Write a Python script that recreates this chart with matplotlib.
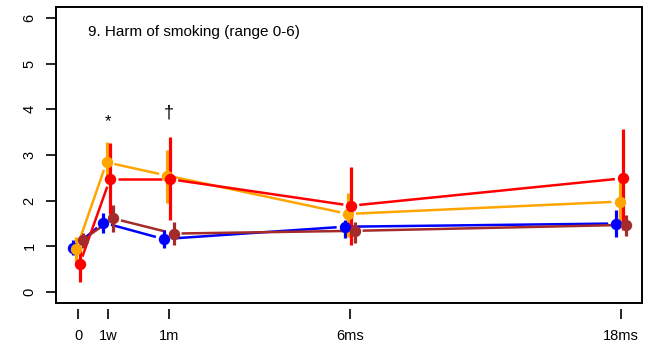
import numpy as np
import matplotlib
matplotlib.use("Agg")
from matplotlib import pyplot as plt
from matplotlib.patches import Rectangle

plt.rcParams['font.family'] = ['Liberation Sans', 'DejaVu Sans']

# time points (axis positions) and labels
time_pos = [0, 1, 3, 9, 18]
time_labels = ['0', '1w', '1m', '6ms', '18ms']

# group means and error bar bounds (low, high)
blue_mean = [0.97, 1.52, 1.16, 1.43, 1.50]
blue_low = [0.81, 1.29, 0.96, 1.18, 1.21]
blue_high = [1.14, 1.73, 1.36, 1.58, 1.80]

orange_mean = [0.94, 2.84, 2.55, 1.71, 1.98]
orange_low = [0.65, 2.45, 1.94, 1.21, 1.50]
orange_high = [1.20, 3.29, 3.11, 2.16, 2.42]

red_mean = [0.61, 2.47, 2.47, 1.89, 2.49]
red_low = [0.23, 1.70, 1.58, 1.03, 1.35]
red_high = [0.99, 3.27, 3.39, 2.74, 3.56]

brown_mean = [1.15, 1.61, 1.28, 1.34, 1.47]
brown_low = [0.96, 1.32, 1.03, 1.07, 1.23]
brown_high = [1.29, 1.90, 1.54, 1.54, 1.69]

marks = {'1w': '*', '1m': '\u2020'}

series = [
    ('blue', -0.165, blue_mean, blue_low, blue_high),
    ('orange', -0.055, orange_mean, orange_low, orange_high),
    ('red', 0.055, red_mean, red_low, red_high),
    ('brown', 0.165, brown_mean, brown_low, brown_high),
]

fig = plt.figure(figsize=(6.53, 3.43), dpi=100)
ax = fig.add_axes([0.0858, 0.1166, 0.8974, 0.863])
ax.set_xlim(-0.73, 18.69)
ax.set_ylim(-0.24, 6.24)

gap = 8.0  # pixels left blank around each point (like R type="b")
for color, off, mean, low, high in series:
    x = np.array(time_pos, dtype=float) + off
    y = np.array(mean)
    pts = ax.transData.transform(np.column_stack([x, y]))
    for i in range(len(x) - 1):
        p0, p1 = pts[i], pts[i + 1]
        d = p1 - p0
        L = np.hypot(*d)
        if L <= 2 * gap:
            continue
        u = d / L
        seg = ax.transData.inverted().transform(np.array([p0 + u * gap, p1 - u * gap]))
        ax.plot(seg[:, 0], seg[:, 1], color=color, lw=1.8, solid_capstyle='butt', zorder=2)

for color, off, mean, low, high in series:
    x = np.array(time_pos, dtype=float) + off
    ax.vlines(x, low, high, color=color, lw=2.3, zorder=3)
    ax.plot(x, mean, 'o', color=color, ms=7.2, mec=color, zorder=4)

for lab, sym in marks.items():
    xi = time_pos[time_labels.index(lab)]
    if sym == '*':
        ax.text(xi, 3.72, sym, ha='center', va='center', fontsize=12)
    else:
        ax.text(xi, 3.92, sym, ha='center', va='center', fontsize=13)

ax.text(0.055, 0.916, '9. Harm of smoking (range 0-6)', transform=ax.transAxes,
        ha='left', va='center', fontsize=11)

ax.set_xticks(time_pos)
ax.set_xticklabels(time_labels)
ax.set_yticks(range(0, 7))
ax.set_yticklabels([str(v) for v in range(0, 7)], rotation=90, va='center')
ax.tick_params(axis='both', direction='out', length=7, width=1.2, labelsize=10.5, color='black')
ax.tick_params(axis='y', pad=7)
ax.tick_params(axis='x', pad=8)

for s in ax.spines.values():
    s.set_visible(False)
ax.spines['bottom'].set_position(('outward', 4))
ax.add_patch(Rectangle((0, 0), 1, 1, transform=ax.transAxes, fill=False,
                       lw=1.4, ec='black', clip_on=False, zorder=5))

fig.savefig('out.png', dpi=100)
